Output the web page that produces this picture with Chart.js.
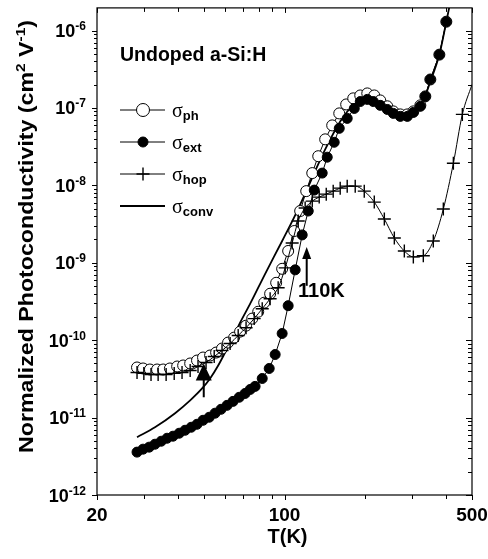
<!DOCTYPE html>
<html>
<head>
<meta charset="utf-8">
<script src="https://cdn.jsdelivr.net/npm/chart.js@4.4.0/dist/chart.umd.min.js"></script>
<style>
  html, body { margin: 0; padding: 0; background: #fff; }
</style>
</head>
<body>
<canvas id="chart" width="488" height="559"></canvas>
<script>
"use strict";

// temperatures (K) and normalized photoconductivity (cm2/V)
const tPh = [28.2, 29.7, 31.5, 33.5, 35.3, 37.4, 39.8, 41.9, 44.5, 47.2, 49.7, 52.8, 55.6, 58.5, 61.6, 64.9, 68.3, 71.9, 75.8, 79.8, 84.0, 88.4, 93.1, 98.0, 103.2, 108.7, 114.4, 120.5, 126.9, 133.6, 141.8, 150.6, 160.0, 169.8, 180.4, 191.6, 203.5, 216.1, 227.5, 241.6, 254.5, 270.2, 287.0, 302.2, 320.9, 334.9, 349.6, 377.8, 401.1];
const sigPh = [4.44e-11, 4.31e-11, 4.18e-11, 4.18e-11, 4.18e-11, 4.31e-11, 4.57e-11, 4.71e-11, 5.0e-11, 5.46e-11, 5.97e-11, 6.34e-11, 6.92e-11, 7.8e-11, 9.31e-11, 1.08e-10, 1.29e-10, 1.54e-10, 1.9e-10, 2.33e-10, 3.05e-10, 3.98e-10, 5.51e-10, 8.35e-10, 1.42e-9, 2.57e-9, 4.66e-9, 8.42e-9, 1.44e-8, 2.38e-8, 3.93e-8, 5.95e-8, 8.5e-8, 1.11e-7, 1.33e-7, 1.45e-7, 1.54e-7, 1.45e-7, 1.25e-7, 1.05e-7, 9.02e-8, 8.25e-8, 8.25e-8, 9.02e-8, 1.08e-7, 1.41e-7, 2.33e-7, 4.88e-7, 1.3e-6];

const tExt = [28.2, 29.7, 31.3, 32.9, 34.7, 36.5, 38.4, 40.5, 42.6, 44.9, 47.2, 49.7, 52.4, 55.1, 58.0, 61.1, 64.3, 67.8, 71.3, 74.5, 77.7, 82.6, 87.7, 92.3, 98.0, 103.2, 109.6, 116.4, 122.6, 129.1, 138.2, 144.3, 153.2, 160.0, 171.3, 182.0, 191.6, 203.5, 214.2, 227.5, 241.6, 254.5, 270.2, 287.0, 302.2, 320.9, 334.9, 349.6, 377.8, 401.1];
const sigExt = [3.58e-12, 3.91e-12, 4.15e-12, 4.53e-12, 4.95e-12, 5.41e-12, 5.75e-12, 6.28e-12, 6.86e-12, 7.5e-12, 8.2e-12, 9.23e-12, 1.01e-11, 1.14e-11, 1.28e-11, 1.44e-11, 1.62e-11, 1.83e-11, 2.05e-11, 2.31e-11, 2.53e-11, 3.2e-11, 4.31e-11, 6.53e-11, 1.22e-10, 2.79e-10, 8.1e-10, 2.29e-9, 4.66e-9, 8.68e-9, 1.44e-8, 2.31e-8, 3.6e-8, 5.45e-8, 7.33e-8, 9.85e-8, 1.21e-7, 1.29e-7, 1.21e-7, 1.08e-7, 9.56e-8, 8.5e-8, 7.78e-8, 7.78e-8, 8.75e-8, 1.05e-7, 1.41e-7, 2.33e-7, 4.88e-7, 1.3e-6];

const tHop = [28.2, 29.9, 31.8, 33.8, 36.2, 38.8, 41.5, 44.5, 47.6, 51.0, 54.7, 58.5, 62.7, 67.2, 71.9, 77.1, 82.6, 88.4, 94.7, 100.6, 106.8, 112.5, 119.4, 126.9, 134.7, 143.1, 151.9, 161.3, 171.3, 183.5, 198.3, 216.1, 235.6, 256.7, 279.7, 302.2, 329.2, 358.7, 390.9, 426.1, 460.2, 500];
const sigHop = [3.83e-11, 3.72e-11, 3.61e-11, 3.61e-11, 3.61e-11, 3.72e-11, 3.83e-11, 4.06e-11, 4.57e-11, 5.15e-11, 6.15e-11, 7.35e-11, 9.04e-11, 1.15e-10, 1.45e-10, 1.9e-10, 2.55e-10, 3.43e-10, 4.75e-10, 8.6e-10, 1.8e-9, 3.46e-9, 5.09e-9, 6.26e-9, 7.05e-9, 7.7e-9, 8.42e-9, 9.2e-9, 9.77e-9, 9.77e-9, 8.42e-9, 6.08e-9, 3.67e-9, 2.09e-9, 1.42e-9, 1.19e-9, 1.23e-9, 1.91e-9, 4.94e-9, 1.93e-8, 8.25e-8, 2.01e-7];

const tConv = [28.2, 32.9, 39.1, 44.5, 49.3, 52.8, 56.6, 60.6, 64.3, 68.3, 74.5, 84.7, 98.0, 111.5, 121.5, 128.0, 141.8, 161.3, 180.4, 203.5, 227.5, 254.5, 287.0, 320.9, 349.6, 377.8, 401.1, 426.1];
const sigConv = [5.58e-12, 7.5e-12, 1.14e-11, 1.67e-11, 2.38e-11, 3.2e-11, 4.71e-11, 7.35e-11, 1.08e-10, 1.68e-10, 2.96e-10, 7.2e-10, 1.91e-9, 4.66e-9, 8.93e-9, 1.35e-8, 2.92e-8, 6.7e-8, 1.08e-7, 1.33e-7, 1.14e-7, 9.02e-8, 8.01e-8, 1.02e-7, 2.19e-7, 4.88e-7, 1.3e-6, 3.66e-6];

// axis ticks
const xTickLabels = [20, 100, 500];
const xMinorTicks = [30, 40, 50, 60, 70, 80, 90, 200, 300, 400];
const yTickExponents = [-12, -11, -10, -9, -8, -7, -6];

// annotations
const arrowLow = { t: 50, from: 1.83e-11, to: 5.0e-11 };
const arrowHigh = { t: 121, from: 5.04e-10, to: 1.6e-9 };
const arrowLabel = '110K';
const sampleLabel = 'Undoped a-Si:H';

const toPoints = (ts, vs) => ts.map((t, i) => ({ x: t, y: vs[i] }));

const SANS = '"Liberation Sans", Arial, sans-serif';

function drawRich(ctx, parts, x, y) {
  // parts: [text, font, dy]
  let cx = x;
  parts.forEach(([txt, font, dy]) => {
    ctx.font = font;
    ctx.fillText(txt, cx, y + dy);
    cx += ctx.measureText(txt).width;
  });
  return cx - x;
}
function richWidth(ctx, parts) {
  let w = 0;
  parts.forEach(([txt, font]) => { ctx.font = font; w += ctx.measureText(txt).width; });
  return w;
}

const decor = {
  id: 'decor',
  afterDatasetsDraw(chart) {
    const { ctx, chartArea: a, scales: { x, y } } = chart;
    ctx.save();
    ctx.strokeStyle = '#000';
    ctx.fillStyle = '#000';
    ctx.lineWidth = 1.2;
    ctx.strokeRect(a.left, a.top, a.right - a.left, a.bottom - a.top);

    // x ticks: outside at bottom, inside at top
    ctx.lineWidth = 1;
    ctx.beginPath();
    xTickLabels.concat(xMinorTicks).forEach(v => {
      const px = Math.round(x.getPixelForValue(v)) + 0.5;
      const len = xTickLabels.includes(v) ? 5 : 4;
      ctx.moveTo(px, a.bottom); ctx.lineTo(px, a.bottom + len);
      ctx.moveTo(px, a.top); ctx.lineTo(px, a.top + len);
    });
    // y ticks: outside on left, inside on right
    yTickExponents.forEach(e => {
      for (let m = 1; m <= 9; m++) {
        const v = m * Math.pow(10, e);
        if (v > y.max * 1.0001) continue;
        const py = Math.round(y.getPixelForValue(v)) + 0.5;
        const len = m === 1 ? 5 : 3;
        ctx.moveTo(a.left, py); ctx.lineTo(a.left - len, py);
        ctx.moveTo(a.right, py); ctx.lineTo(a.right - len - 1, py);
      }
    });
    ctx.stroke();

    // x tick labels
    ctx.textAlign = 'center';
    ctx.textBaseline = 'alphabetic';
    ctx.font = 'bold 19px ' + SANS;
    xTickLabels.forEach(v => ctx.fillText(String(v), x.getPixelForValue(v), 521));
    ctx.font = 'bold 20px ' + SANS;
    ctx.fillText('T(K)', (a.left + a.right) / 2 + 3, 543);

    // y tick labels 10^n
    ctx.textAlign = 'left';
    yTickExponents.forEach(e => {
      const py = y.getPixelForValue(Math.pow(10, e));
      const parts = [['10', 'bold 18px ' + SANS, 6.5], [String(e), 'bold 12px ' + SANS, -0.5]];
      const w = richWidth(ctx, parts);
      drawRich(ctx, parts, 86 - w, py);
    });

    // y axis title, rotated
    const tParts = [
      ['Normalized Photoconductivity (cm', 'bold 19.5px ' + SANS, 0],
      ['2', 'bold 13px ' + SANS, -8],
      [' V', 'bold 19.5px ' + SANS, 0],
      ['-1', 'bold 13px ' + SANS, -8],
      [')', 'bold 19.5px ' + SANS, 0]
    ];
    const tw = richWidth(ctx, tParts);
    ctx.save();
    ctx.translate(33, 453);
    ctx.rotate(-Math.PI / 2);
    ctx.scale(433 / tw, 1);
    drawRich(ctx, tParts, 0, 0);
    ctx.restore();

    // sample label
    ctx.font = 'bold 19.5px ' + SANS;
    ctx.fillText(sampleLabel, 120, 61);

    // legend
    const rows = [
      { y: 110, sub: 'ph', marker: { pointStyle: 'circle', radius: 6.5, borderWidth: 1 }, fill: '#fff', lw: 1 },
      { y: 142, sub: 'ext', marker: { pointStyle: 'circle', radius: 5, borderWidth: 1 }, fill: '#000', lw: 1 },
      { y: 174, sub: 'hop', marker: { pointStyle: 'cross', radius: 6.5, borderWidth: 1.4 }, fill: '#000', lw: 1 },
      { y: 206, sub: 'conv', marker: null, fill: '#000', lw: 2 }
    ];
    rows.forEach(r => {
      ctx.lineWidth = r.lw;
      ctx.strokeStyle = '#000';
      ctx.beginPath();
      ctx.moveTo(120, r.y); ctx.lineTo(165, r.y);
      ctx.stroke();
      if (r.marker) {
        ctx.fillStyle = r.fill;
        ctx.lineWidth = r.marker.borderWidth;
        Chart.helpers.drawPoint(ctx, Object.assign({ rotation: 0 }, r.marker), 143, r.y);
      }
      ctx.fillStyle = '#000';
      drawRich(ctx, [['\u03C3', '20px "Liberation Serif", serif', 7], [r.sub, 'bold 13px ' + SANS, 10]], 172, r.y);
    });

    // arrows
    const drawArrow = (ar, headH, headW) => {
      const px = x.getPixelForValue(ar.t);
      const y0 = y.getPixelForValue(ar.from);
      const y1 = y.getPixelForValue(ar.to);
      ctx.lineWidth = 2;
      ctx.beginPath();
      ctx.moveTo(px, y0); ctx.lineTo(px, y1 + headH - 1);
      ctx.stroke();
      ctx.beginPath();
      ctx.moveTo(px, y1);
      ctx.lineTo(px - headW, y1 + headH);
      ctx.lineTo(px + headW, y1 + headH);
      ctx.closePath();
      ctx.fill();
    };
    drawArrow(arrowLow, 17, 8);
    drawArrow(arrowHigh, 12, 4.5);
    ctx.font = 'bold 20px ' + SANS;
    ctx.fillText(arrowLabel, 298, 297);

    ctx.restore();
  }
};

new Chart(document.getElementById('chart'), {
  type: 'line',
  data: {
    datasets: [
      {
        label: 'σext', data: toPoints(tExt, sigExt), order: 1,
        borderColor: '#000', borderWidth: 1, pointStyle: 'circle', pointRadius: 5,
        pointBackgroundColor: '#000', pointBorderColor: '#000', pointBorderWidth: 1
      },
      {
        label: 'σhop', data: toPoints(tHop, sigHop), order: 2,
        borderColor: '#000', borderWidth: 1, pointStyle: 'cross',
        pointRadius: ctx => (ctx.dataIndex === tHop.length - 1 ? 0 : 6.5),
        pointBorderColor: '#000', pointBorderWidth: 1.4, cubicInterpolationMode: 'monotone'
      },
      {
        label: 'σph', data: toPoints(tPh, sigPh), order: 3,
        borderColor: '#000', borderWidth: 1, pointStyle: 'circle', pointRadius: 5.5,
        pointBackgroundColor: '#fff', pointBorderColor: '#000', pointBorderWidth: 1
      },
      {
        label: 'σconv', data: toPoints(tConv, sigConv), order: 4,
        borderColor: '#000', borderWidth: 1.8, pointRadius: 0, cubicInterpolationMode: 'monotone'
      }
    ]
  },
  options: {
    responsive: false,
    animation: false,
    devicePixelRatio: 1,
    layout: { padding: { left: 97, right: 16, top: 6, bottom: 64 } },
    scales: {
      x: { type: 'logarithmic', min: 20, max: 500, display: false },
      y: { type: 'logarithmic', min: 1e-12, max: 1.96e-6, display: false }
    },
    plugins: { legend: { display: false }, tooltip: { enabled: false } }
  },
  plugins: [decor]
});
</script>
</body>
</html>
